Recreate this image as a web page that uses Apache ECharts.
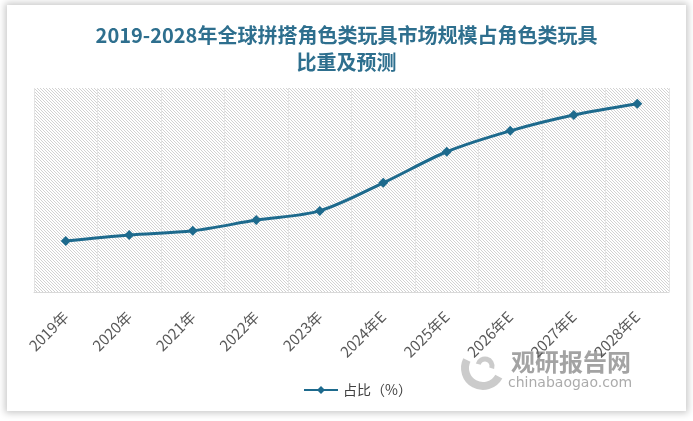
<!DOCTYPE html>
<html><head><meta charset="utf-8">
<script src="https://cdn.jsdelivr.net/npm/echarts@6/dist/echarts.min.js"></script>
<style>
html,body{margin:0;padding:0;background:#ffffff;}
#card{position:absolute;left:7px;top:5px;width:679px;height:406px;background:#fff;box-shadow:0 0 7px 2px rgba(0,0,0,0.22);}
#main{position:absolute;left:0;top:0;width:693px;height:421px;}
</style></head>
<body>
<div id="card"></div>
<div id="main"></div>
<script>
var categories = ['2019年','2020年','2021年','2022年','2023年','2024年E','2025年E','2026年E','2027年E','2028年E'];
var shareValues = [10.0, 11.2, 12.0, 14.1, 15.9, 21.4, 27.5, 31.6, 34.7, 36.9];
var seriesName = '占比（%）';
var titleText = '2019-2028年全球拼搭角色类玩具市场规模占角色类玩具\n比重及预测';

var pc = document.createElement('canvas');
pc.width = 3; pc.height = 3;
var pctx = pc.getContext('2d');
pctx.fillStyle = '#ffffff'; pctx.fillRect(0,0,3,3);
pctx.fillStyle = '#d2d2d2';
for (var i = 0; i < 3; i++) { pctx.fillRect(i, i, 1, 1); }

var chart = echarts.init(document.getElementById('main'), null, {renderer:'canvas'});
chart.setOption({
  backgroundColor: 'transparent',
  animation: false,
  title: {
    text: titleText,
    left: 'center', top: 17,
    textStyle: {color:'#2e6f8e', fontSize:20, fontWeight:'bold', lineHeight:27, fontFamily:'Noto Sans CJK SC'}
  },
  grid: {left:34, right:24, top:88, bottom:129, show:true, borderWidth:0,
    backgroundColor: {image: pc, repeat: 'repeat'}},
  legend: {
    bottom: 19, left: 298, itemWidth: 34, itemHeight: 10, itemGap: 2,
    textStyle: {color:'#404040', fontSize:14, fontFamily:'Noto Sans CJK SC'},
    data: [seriesName]
  },
  xAxis: {
    type:'category', data: categories, boundaryGap:true,
    axisLine:{show:true, lineStyle:{color:'#d9d9d9', width:1}},
    axisTick:{show:false},
    splitLine:{show:true, interval:0, lineStyle:{color:'#e4e4e4', width:1}},
    axisLabel:{rotate:45, interval:0, margin:22, color:'#595959', fontSize:15, fontFamily:'Noto Sans CJK SC'}
  },
  yAxis: {type:'value', min:0, max:40, show:false, splitLine:{show:false}},
  series: [{
    name: seriesName, type:'line', data: shareValues, smooth:0.3,
    symbol:'diamond', symbolSize:10,
    lineStyle:{color:'#1d6a8d', width:3},
    itemStyle:{color:'#1d6a8d'}
  }],
  graphic: [
    {type:'arc', shape:{cx:483, cy:368, r:18, startAngle:0.5, endAngle:3.6}, style:{stroke:'rgba(185,185,185,0.75)', lineWidth:8, fill:null}},
    {type:'arc', shape:{cx:485, cy:366, r:7, startAngle:3.4, endAngle:6.6}, style:{stroke:'rgba(185,185,185,0.75)', lineWidth:5, fill:null}},
    {type:'text', left:511, top:350, style:{text:'观研报告网', fill:'rgba(140,140,140,0.8)', fontSize:24, fontWeight:'bold', fontFamily:'Noto Sans CJK SC'}},
    {type:'text', left:508, top:376, style:{text:'chinabaogao.com', fill:'rgba(150,150,150,0.8)', fontSize:14, fontFamily:'DejaVu Sans'}}
  ]
});
</script>
</body></html>
